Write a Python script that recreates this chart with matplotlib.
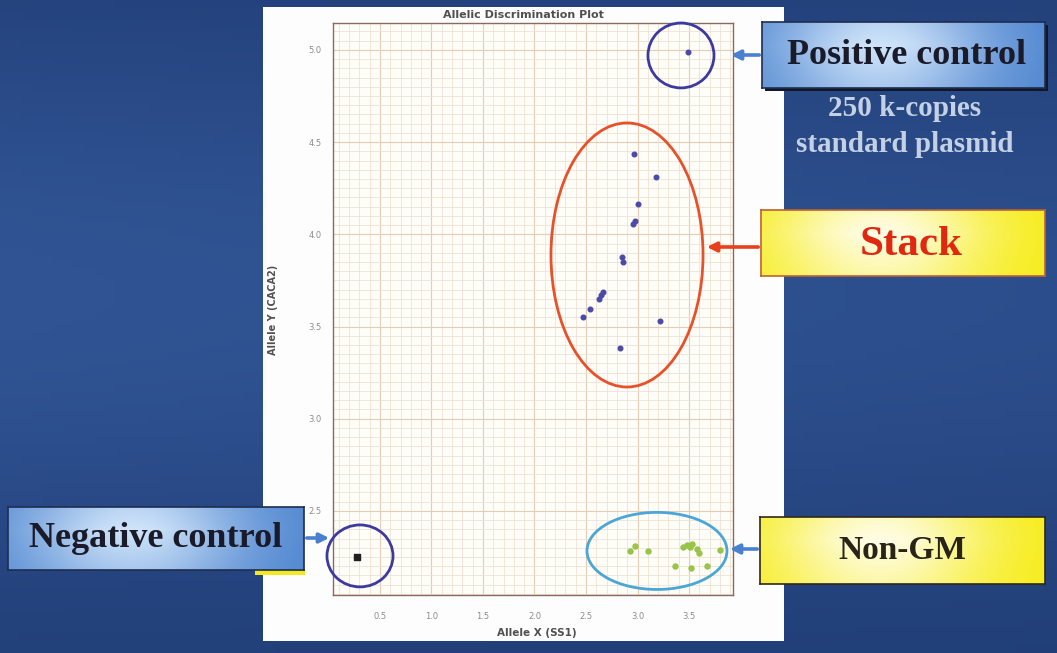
import numpy as np
import matplotlib
matplotlib.use("Agg")
from matplotlib import pyplot as plt
from matplotlib.patches import Ellipse, Rectangle, FancyArrowPatch
from matplotlib.ticker import MultipleLocator

# data
stack_x = [2.97, 3.18, 3.005, 2.98, 2.953, 2.847, 2.862, 2.665, 2.643, 2.623, 2.542, 2.468, 3.217, 2.833]
stack_y = [4.436, 4.31, 4.165, 4.07, 4.055, 3.876, 3.852, 3.686, 3.671, 3.648, 3.594, 3.55, 3.529, 3.384]
nongm_x = [2.927, 2.979, 3.105, 3.439, 3.478, 3.532, 3.51, 3.58, 3.6, 3.801, 3.364, 3.519, 3.672]
nongm_y = [2.285, 2.31, 2.281, 2.306, 2.317, 2.321, 2.303, 2.296, 2.271, 2.289, 2.203, 2.189, 2.202]
pos_x = [3.49]
pos_y = [4.99]
neg_x = [0.277]
neg_y = [2.251]

x_ticks = [0.5, 1.0, 1.5, 2.0, 2.5, 3.0, 3.5]
y_ticks = [2.5, 3.0, 3.5, 4.0, 4.5, 5.0]

W, H = 1057, 653


def px(x, y):
    # pixel (top-left origin) -> figure fraction
    return (x / W, 1 - y / H)


def gradient_box(fig, x0, y0, x1, y1, edge, centre, border):
    ax = fig.add_axes([x0 / W, 1 - y1 / H, (x1 - x0) / W, (y1 - y0) / H])
    u = np.linspace(0, 1, 200)
    v = np.linspace(0, 1, 60)
    U, V = np.meshgrid(u, v)
    f = np.exp(-((U - 0.42) / 0.38) ** 2) * (1 - 0.45 * np.abs(V - 0.35))
    e = np.array(matplotlib.colors.to_rgb(edge))
    c = np.array(matplotlib.colors.to_rgb(centre))
    img = e[None, None, :] + (c - e)[None, None, :] * f[:, :, None]
    ax.imshow(img, aspect="auto", extent=(0, 1, 0, 1))
    ax.set_xticks([])
    ax.set_yticks([])
    for s in ax.spines.values():
        s.set_color(border)
        s.set_linewidth(1.2)
    return ax


def arrow(fig, start, end, color):
    fig.add_artist(FancyArrowPatch(px(*start), px(*end), transform=fig.transFigure,
                                   arrowstyle="-|>", mutation_scale=14, color=color, lw=2.6, zorder=5))


def flat_rect(fig, x0, y0, x1, y1, color):
    fig.add_artist(Rectangle(px(x0, y1), (x1 - x0) / W, (y1 - y0) / H, transform=fig.transFigure,
                             facecolor=color, edgecolor="none", zorder=-1))


fig = plt.figure(figsize=(W / 100, H / 100), dpi=100)

# slide background
bg = fig.add_axes([0, 0, 1, 1])
bg.set_zorder(-5)
gy = np.linspace(0, 1, 100)[:, None]
gx = np.linspace(0, 1, 100)[None, :]
top = np.array([0.12, 0.23, 0.45])
mid = np.array([0.19, 0.33, 0.58])
t = np.exp(-((gy - 0.45) / 0.45) ** 2) * (1 - 0.25 * gx)
bg_img = top[None, None, :] + (mid - top)[None, None, :] * t[:, :, None]
bg.imshow(bg_img, aspect="auto", extent=(0, 1, 0, 1))
bg.axis("off")

# white panel behind the plot, box shadows
flat_rect(fig, 263, 7, 784, 641, "#fdfdfd")
flat_rect(fig, 765, 25, 1048, 91, "#101828")
flat_rect(fig, 255, 569, 305, 575, "#f4e820")

ax = fig.add_axes([333 / W, 1 - 595 / H, 400 / W, 572 / H])
ax.set_facecolor("#fffdf8")
ax.set_xlim(0.044, 3.927)
ax.set_ylim(2.044, 5.146)
ax.xaxis.set_minor_locator(MultipleLocator(0.1))
ax.yaxis.set_minor_locator(MultipleLocator(0.05))
ax.set_xticks(x_ticks)
ax.set_yticks(y_ticks)
ax.set_xticklabels([f"{v:.1f}" for v in x_ticks])
ax.set_yticklabels([f"{v:.1f}" for v in y_ticks])
ax.grid(which="minor", color="#efe2d4", lw=0.6)
ax.grid(which="major", color="#e4cdb6", lw=0.8)
ax.set_axisbelow(True)
ax.tick_params(which="both", length=0, labelsize=6, labelcolor="#8c8c8c")
ax.tick_params(axis="x", pad=12)
ax.tick_params(axis="y", pad=8)
for s in ax.spines.values():
    s.set_color("#8a6a5a")
    s.set_linewidth(1.0)

ax.scatter(stack_x, stack_y, s=11, color="#4a4aa8", zorder=3)
ax.scatter(pos_x, pos_y, s=11, color="#4a4aa8", zorder=3)
ax.scatter(nongm_x, nongm_y, s=13, color="#98c448", zorder=3)
ax.scatter(neg_x, neg_y, s=18, marker="s", color="#202020", zorder=3)

# hand-drawn circles
for (cx, cy, w, h, col) in [(3.422, 4.97, 0.641, 0.352, "#3a3aa0"),
                            (2.898, 3.888, 1.476, 1.432, "#e8502a"),
                            (3.189, 2.283, 1.359, 0.418, "#4aa6d6"),
                            (0.306, 2.256, 0.641, 0.336, "#3a3aa0")]:
    ax.add_patch(Ellipse((cx, cy), w, h, fill=False, edgecolor=col, lw=2.0, clip_on=False, zorder=4))

fig.text(*px(523, 15), "Allelic Discrimination Plot", ha="center", va="center",
         fontsize=8, fontweight="bold", color="#505050")
fig.text(*px(273, 310), "Allele Y (CACA2)", ha="center", va="center", rotation=90,
         fontsize=7, fontweight="bold", color="#505050")
fig.text(*px(537, 633), "Allele X (SS1)", ha="center", va="center",
         fontsize=7.5, fontweight="bold", color="#505050")

serif = "Liberation Serif"

# callout boxes
b = gradient_box(fig, 762, 22, 1045, 88, "#4d84cf", "#cfe4fa", "#1e2e50")
b.text(0.51, 0.5, "Positive control", transform=b.transAxes, ha="center", va="center",
       fontsize=26, fontweight="bold", family=serif, color="#1a1a28")
arrow(fig, (762, 55), (728, 55), "#4a80d0")

fig.text(*px(905, 108), "250 k-copies", ha="center", va="center", fontsize=21,
         fontweight="bold", family=serif, color="#c4d0e4")
fig.text(*px(905, 145), "standard plasmid", ha="center", va="center", fontsize=21,
         fontweight="bold", family=serif, color="#c4d0e4")

b = gradient_box(fig, 761, 210, 1045, 276, "#f6ec12", "#fffde6", "#c06030")
b.text(0.53, 0.47, "Stack", transform=b.transAxes, ha="center", va="center",
       fontsize=31, fontweight="bold", family=serif, color="#e02810")
arrow(fig, (761, 247), (704, 247), "#e8401c")

b = gradient_box(fig, 760, 517, 1045, 584, "#f6ec12", "#fffde6", "#302818")
b.text(0.5, 0.5, "Non-GM", transform=b.transAxes, ha="center", va="center",
       fontsize=24, fontweight="bold", family=serif, color="#2a2418")
arrow(fig, (760, 549), (727, 549), "#4a80d0")

b = gradient_box(fig, 8, 507, 304, 570, "#4d84cf", "#cfe4fa", "#1e2e50")
b.text(0.5, 0.5, "Negative control", transform=b.transAxes, ha="center", va="center",
       fontsize=26, fontweight="bold", family=serif, color="#1a1a28")
arrow(fig, (304, 538), (332, 538), "#4a80d0")

fig.savefig("out.png", dpi=100)
